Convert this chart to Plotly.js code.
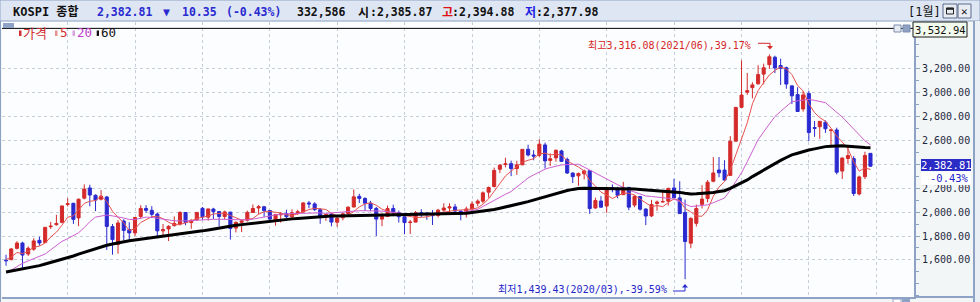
<!DOCTYPE html>
<html><head><meta charset="utf-8">
<script src="https://cdn.plot.ly/plotly-3.0.1.min.js"></script>
<style>html,body{margin:0;padding:0;background:#fff;overflow:hidden}#chart{width:980px;height:302px}</style>
</head><body><div id="chart"></div>
<script>
// ---------------- DATA ----------------
const months = [
 '2010-02','2010-03','2010-04','2010-05','2010-06','2010-07','2010-08','2010-09','2010-10','2010-11','2010-12',
 '2011-01','2011-02','2011-03','2011-04','2011-05','2011-06','2011-07','2011-08','2011-09','2011-10','2011-11','2011-12',
 '2012-01','2012-02','2012-03','2012-04','2012-05','2012-06','2012-07','2012-08','2012-09','2012-10','2012-11','2012-12',
 '2013-01','2013-02','2013-03','2013-04','2013-05','2013-06','2013-07','2013-08','2013-09','2013-10','2013-11','2013-12',
 '2014-01','2014-02','2014-03','2014-04','2014-05','2014-06','2014-07','2014-08','2014-09','2014-10','2014-11','2014-12',
 '2015-01','2015-02','2015-03','2015-04','2015-05','2015-06','2015-07','2015-08','2015-09','2015-10','2015-11','2015-12',
 '2016-01','2016-02','2016-03','2016-04','2016-05','2016-06','2016-07','2016-08','2016-09','2016-10','2016-11','2016-12',
 '2017-01','2017-02','2017-03','2017-04','2017-05','2017-06','2017-07','2017-08','2017-09','2017-10','2017-11','2017-12',
 '2018-01','2018-02','2018-03','2018-04','2018-05','2018-06','2018-07','2018-08','2018-09','2018-10','2018-11','2018-12',
 '2019-01','2019-02','2019-03','2019-04','2019-05','2019-06','2019-07','2019-08','2019-09','2019-10','2019-11','2019-12',
 '2020-01','2020-02','2020-03','2020-04','2020-05','2020-06','2020-07','2020-08','2020-09','2020-10','2020-11','2020-12',
 '2021-01','2021-02','2021-03','2021-04','2021-05','2021-06','2021-07','2021-08','2021-09','2021-10','2021-11','2021-12',
 '2022-01','2022-02','2022-03','2022-04','2022-05','2022-06','2022-07','2022-08','2022-09','2022-10','2022-11','2022-12'
];
const openP = [
 1598,1603,1697,1741,1650,1690,1764,1745,1878,1895,1914,
 2063,2073,1951,2116,2201,2140,2107,2126,1879,1730,1925,1853,
 1826,1963,2030,2014,1983,1843,1859,1886,1900,1996,1912,1936,
 2031,1957,2025,2004,1963,1999,1866,1914,1931,1996,2034,2044,
 2013,1935,1977,1988,1960,1991,2001,2076,2068,2020,1964,1983,
 1915,1952,1988,2042,2131,2113,2074,2030,1941,1963,2030,1996,
 1961,1913,1916,1995,1993,1982,1971,2016,2034,2043,2008,1987,
 2026,2074,2091,2166,2213,2357,2397,2404,2363,2394,2524,2476,
 2474,2560,2431,2452,2510,2439,2325,2302,2319,2345,2034,2092,
 2050,2203,2196,2145,2206,2058,2129,2025,1968,2072,2084,2091,
 2201,2118,1997,1740,1906,2064,2113,2257,2351,2350,2306,2591,
 2874,3000,3038,3070,3151,3230,3292,3223,3205,3053,2980,2860,
 2989,2705,2712,2750,2680,2685,2342,2447,2446,2151,2295,2490
];
const highP = [
 1644,1700,1757,1752,1713,1781,1794,1876,1918,1977,2052,
 2116,2077,2113,2231,2228,2147,2184,2134,1900,1933,1940,1915,
 1958,2057,2057,2049,1996,1900,1890,1964,2007,2001,1939,1999,
 2042,2028,2035,2007,2012,2003,1922,1935,2012,2063,2059,2051,
 2013,1983,2000,2019,2023,2019,2082,2093,2082,2034,1983,1992,
 1964,1999,2046,2189,2152,2124,2093,2044,1988,2054,2062,2012,
 1961,1934,2009,2024,2000,2016,2027,2073,2073,2068,2012,2045,
 2090,2106,2172,2213,2371,2402,2453,2429,2428,2524,2562,2516,
 2607,2579,2490,2523,2520,2455,2332,2330,2355,2346,2120,2133,
 2205,2231,2210,2252,2209,2139,2135,2032,2102,2096,2173,2204,
 2277,2257,2105,1957,2062,2224,2267,2458,2459,2432,2634,2878,
 3266,3161,3083,3225,3238,3316.08,3305,3280,3213,3054,3042,3010,
 3010,2760,2760,2765,2690,2704,2455,2546,2467,2304,2503,2490
];
const lowP = [
 1552,1597,1688,1532,1633,1676,1720,1745,1859,1886,1906,
 2046,1901,1882,2106,2048,2008,2097,1684,1644,1652,1764,1750,
 1800,1942,1993,1949,1782,1801,1758,1880,1888,1890,1860,1925,
 1935,1928,1942,1880,1939,1770,1830,1833,1920,1996,1980,1960,
 1914,1886,1912,1950,1940,1976,1995,2032,2010,1902,1927,1881,
 1876,1931,1973,2040,2076,2012,2008,1800,1882,1963,1966,1913,
 1817,1817,1914,1958,1935,1892,1955,2003,1993,1986,1931,1954,
 2016,2048,2073,2120,2206,2325,2373,2300,2310,2394,2464,2432,
 2457,2363,2385,2420,2419,2317,2242,2218,2272,1985,2027,2034,
 1993,2165,2115,2145,2016,2040,2012,1891,1958,2011,2083,2054,
 2119,1987,1439.43,1698,1879,2030,2081,2248,2290,2262,2306,2591,
 2869,2978,2949,3063,3066,3194,3160,3060,3029,2901,2837,2838,
 2591,2628,2610,2660,2546,2314,2276,2402,2134,2138,2275,2377.98
];
const closeP = [
 1594,1692,1741,1641,1698,1759,1742,1872,1882,1904,2051,
 2069,1939,2107,2192,2142,2100,2133,1880,1770,1909,1847,1826,
 1955,2030,2014,1981,1843,1854,1881,1905,1996,1912,1932,1997,
 1961,2026,2004,1963,2001,1863,1914,1926,1997,2030,2044,2011,
 1941,1980,1985,1961,1994,2002,2076,2068,2020,1964,1981,1916,
 1949,1985,2041,2127,2114,2074,2030,1941,1963,2029,1991,1961,
 1912,1916,1995,1994,1983,1970,2016,2034,2043,2008,1983,2026,
 2067,2091,2160,2205,2347,2391,2402,2363,2394,2523,2476,2467,
 2566,2427,2445,2515,2423,2326,2295,2322,2343,2029,2096,2041,
 2204,2195,2140,2203,2041,2131,2024,1967,2063,2083,2087,2197,
 2119,1987,1754,1947,2030,2108,2249,2326,2327,2267,2591,2873,
 2976,3013,3061,3147,3204,3296,3202,3199,3068,2970,2839,2977,
 2663,2699,2757,2695,2685,2332,2451,2472,2155,2293,2472,2382.81
];
const ma5 = [
 1603,1625,1662,1654,1673,1706,1716,1742,1791,1832,1890,
 1956,1969,2014,2072,2090,2096,2135,2089,2005,1958,1908,1846,
 1861,1913,1934,1961,1965,1944,1915,1893,1896,1910,1925,1948,
 1960,1966,1984,1990,1991,1971,1949,1933,1940,1946,1982,2002,
 2005,2001,1992,1976,1972,1984,2004,2020,2032,2026,2022,1990,
 1966,1959,1974,2004,2043,2068,2077,2057,2024,2007,1991,1977,
 1971,1962,1955,1956,1960,1972,1992,1999,2009,2014,2017,2019,
 2025,2035,2065,2110,2174,2239,2301,2342,2379,2415,2432,2445,
 2485,2492,2476,2484,2475,2427,2401,2376,2342,2263,2217,2166,
 2143,2113,2135,2157,2157,2142,2108,2073,2045,2054,2045,2079,
 2110,2095,2029,2001,1967,1965,2018,2132,2208,2255,2352,2477,
 2607,2744,2903,3014,3080,3144,3182,3210,3194,3147,3056,3011,
 2903,2830,2787,2758,2700,2634,2584,2527,2419,2341,2369,2355
];
const ma20 = [
 1490,1518,1546,1572,1592,1612,1630,1650,1685,1720,1755,
 1778,1803,1827,1870,1920,1958,1968,1975,1968,1961,1950,1938,
 1938,1948,1958,1955,1948,1940,1932,1927,1926,1925,1928,1932,
 1936,1938,1939,1940,1940,1940,1938,1936,1934,1941,1950,1959,
 1966,1975,1983,1986,1988,1990,1992,1993,1995,1993,1989,1993,
 1998,2002,2005,2008,2011,2011,2011,2011,2008,2003,1997,1992,
 1987,1982,1982,1983,1984,1986,1988,1990,1992,1994,1996,2004,
 2013,2022,2046,2073,2100,2124,2148,2171,2209,2246,2284,2310,
 2335,2358,2371,2384,2393,2396,2399,2399,2375,2350,2325,2300,
 2275,2251,2228,2206,2183,2167,2150,2134,2130,2127,2120,2114,
 2108,2088,2066,2046,2050,2055,2060,2078,2097,2117,2183,2256,
 2328,2420,2512,2604,2669,2734,2797,2840,2884,2921,2928,2935,
 2941,2932,2923,2913,2873,2833,2793,2743,2692,2640,2595,2560
];
const ma60 = [
 1500,1508,1516,1524,1532,1541,1553,1566,1578,1590,1603,
 1617,1633,1649,1665,1681,1697,1713,1723,1734,1744,1752,1760,
 1766,1772,1779,1785,1791,1798,1804,1810,1816,1823,1829,1835,
 1843,1851,1859,1867,1875,1883,1889,1895,1901,1907,1913,1919,
 1923,1928,1933,1938,1943,1947,1951,1954,1957,1960,1964,1966,
 1967,1968,1968,1969,1970,1971,1972,1973,1974,1975,1976,1977,
 1978,1979,1979,1980,1981,1981,1982,1982,1983,1983,1984,1990,
 1996,2002,2009,2016,2022,2032,2041,2051,2063,2075,2087,2101,
 2114,2128,2142,2157,2170,2180,2189,2197,2198,2198,2198,2198,
 2198,2198,2197,2196,2195,2192,2189,2186,2183,2179,2176,2173,
 2170,2164,2157,2151,2153,2155,2157,2164,2171,2178,2198,2219,
 2240,2268,2296,2324,2352,2379,2407,2431,2455,2477,2491,2505,
 2518,2527,2537,2546,2549,2552,2554,2550,2545,2540,2538,2537
];
const yTickVals = [1600,1800,2000,2200,2400,2600,2800,3000,3200];
const yTickText = ['1,600.00','1,800.00','2,000.00','2,200.00','','2,600.00','2,800.00','3,000.00','3,200.00'];
const chartTop = 3532.94;
const prevClose = 2393.16;
const dayOpen = 2385.87, dayHigh = 2394.88, dayLow = 2377.98;
const dayVolume = '332,586';

// ---------------- STYLE ----------------
const RED = '#d42a2a', BLUE = '#2a2ad0';
const MONO = 'DejaVu Sans Mono, Noto Sans CJK KR, monospace';
const KR = 'Noto Sans CJK KR, DejaVu Sans Mono, sans-serif';
const FRAME = '#8ea2c5';

const L = 2, R = 914, T = 22, B = 297;
const px = x => (x - L) / (R - L);
const py = y => (B - y) / (B - T);
function rect(x0, y0, x1, y1, fill, line, lw) {
  return {type:'rect', xref:'paper', yref:'paper', x0:px(x0), x1:px(x1), y0:py(y1), y1:py(y0),
    fillcolor:fill, line:{color:line || fill, width: lw || 0}, layer:'above'};
}
function seg(x0, y0, x1, y1, color, w) {
  return {type:'line', xref:'paper', yref:'paper', x0:px(x0), x1:px(x1), y0:py(y0), y1:py(y1),
    line:{color:color, width:w || 1}, layer:'above'};
}
function tri(pts, color) {
  const d = 'M' + pts.map(p => px(p[0]) + ',' + py(p[1])).join(' L') + ' Z';
  return {type:'path', xref:'paper', yref:'paper', path:d, fillcolor:color, line:{color:color, width:0}, layer:'above'};
}
function txt(x, y, text, color, size, family, anchor, bold) {
  return {xref:'paper', yref:'paper', x:px(x), y:py(y), text: bold ? '<b>' + text + '</b>' : text,
    showarrow:false, xanchor:anchor || 'left', yanchor:'middle', borderpad:0,
    font:{family:family, size:size, color:color}};
}
const fmt = v => v.toLocaleString('en-US', {minimumFractionDigits:2, maximumFractionDigits:2});

// derived labels
const last = closeP[closeP.length - 1];
const hiIdx = highP.indexOf(Math.max(...highP));
const loIdx = lowP.indexOf(Math.min(...lowP));
const hiPct = ((highP[hiIdx] / last - 1) * 100).toFixed(2);
const loPct = ((lowP[loIdx] / last - 1) * 100).toFixed(2);
const chg = last - prevClose;
const chgPct = (chg / prevClose * 100).toFixed(2);
const hiText = '최고' + fmt(highP[hiIdx]) + '(' + months[hiIdx].replace('-', '/') + '),' + hiPct + '%';
const loText = '최저' + fmt(lowP[loIdx]) + '(' + months[loIdx].replace('-', '/') + '),' + loPct + '%';

// ---------------- TRACES ----------------
const traces = [
  {type:'candlestick', x:months, open:openP, high:highP, low:lowP, close:closeP,
   increasing:{line:{color:RED, width:1}, fillcolor:RED},
   decreasing:{line:{color:BLUE, width:1}, fillcolor:BLUE},
   whiskerwidth:0, hoverinfo:'skip', showlegend:false},
  {type:'scatter', mode:'lines', x:months, y:ma5, line:{color:'#e8524e', width:1}, hoverinfo:'skip', showlegend:false},
  {type:'scatter', mode:'lines', x:months, y:ma20, line:{color:'#cc5fd0', width:1}, hoverinfo:'skip', showlegend:false},
  {type:'scatter', mode:'lines', x:months, y:ma60, line:{color:'#000000', width:3}, hoverinfo:'skip', showlegend:false}
];

// ---------------- SHAPES ----------------
const shapes = [
  rect(0, 0, 980, 21, '#dee6f3', FRAME, 1),
  seg(0.5, 21, 0.5, 302, FRAME, 1),
  rect(975, 21, 980, 302, '#eaeff6'),
  seg(974, 21, 974, 302, FRAME, 2),
  seg(914, 297, 974, 297, FRAME, 2),
  {type:'line', xref:'paper', yref:'y', x0:0, x1:px(913), y0:chartTop, y1:chartTop, line:{color:'#000', width:1}, layer:'above'},
  rect(913, 22, 967, 37, '#f3fbee', '#1a1a1a', 1),
  rect(894, 25, 901, 32, '#e6ebf2', '#7d8db0', 1),
  rect(903, 25, 910, 32, '#8ea2c5', '#7d8db0', 1),
  rect(3, 23, 14, 28, FRAME),
  rect(19, 30.5, 21.5, 36, '#d23030'),
  rect(55, 30.5, 57.5, 36, '#e79090'),
  rect(72.5, 30.5, 75, 36, '#d9a3e0'),
  rect(96.7, 30.5, 99, 36, '#111111'),
  rect(921, 159, 971, 171, '#2b2bc6'),
  rect(921, 171.5, 971, 185, '#ffffff'),
  rect(943, 4, 957, 18, '#e9edf3', '#5b6b8c', 1),
  rect(958, 4, 971, 18, '#e9edf3', '#5b6b8c', 1),
  rect(946.5, 8, 953.5, 14, '#e9edf3', '#222', 1),
  seg(946.5, 8.8, 953.5, 8.8, '#222', 2),
  seg(758, 43.3, 770, 43.3, RED, 1),
  seg(770, 43.3, 770, 47, RED, 1),
  tri([[767, 46], [773, 46], [770, 49.5]], RED),
  seg(673, 291, 685, 291, BLUE, 1),
  seg(685, 291, 685, 286.5, BLUE, 1),
  tri([[682, 287.5], [688, 287.5], [685, 284]], BLUE),
  rect(893, 299, 901, 303, '#ffffff', FRAME, 1),
  rect(902, 299, 910, 303, FRAME)
];

// ---------------- ANNOTATIONS ----------------
const HY = 11.5;
const annotations = [
  txt(12, HY, 'KOSPI 종합', '#111', 12, MONO, 'left', true),
  txt(96, HY, fmt(last), BLUE, 11.5, MONO, 'left', true),
  txt(162, HY, '▼', BLUE, 11.5, MONO, 'left', true),
  txt(181, HY, Math.abs(chg).toFixed(2), BLUE, 11.5, MONO, 'left', true),
  txt(225, HY, '(' + chgPct + '%)', BLUE, 11.5, MONO, 'left', true),
  txt(296, HY, dayVolume, '#111', 11.5, MONO, 'left', true),
  txt(357, HY, '시', '#111', 12, KR, 'left', true),
  txt(369, HY, ':' + fmt(dayOpen), '#111', 11.5, MONO, 'left', true),
  txt(441, HY, '고', '#e01010', 12, KR, 'left', true),
  txt(451, HY, ':' + fmt(dayHigh), '#111', 11.5, MONO, 'left', true),
  txt(524, HY, '저', '#2020e0', 12, KR, 'left', true),
  txt(535, HY, ':' + fmt(dayLow), '#111', 11.5, MONO, 'left', true),
  txt(907, HY, '[1월]', '#111', 12, MONO, 'left', false),
  txt(964.5, HY, '✕', '#222', 11, MONO, 'center', true),
  txt(22, 32.5, '가격', '#d23030', 13, KR),
  txt(58.5, 32.5, '5', '#d23030', 12.5, MONO),
  txt(76, 32.5, '20', '#c040c8', 12.5, MONO),
  txt(100, 32.5, '60', '#111', 12.5, MONO),
  txt(940.5, 29.8, fmt(chartTop), '#111', 10.5, MONO, 'center'),
  txt(946, 165, fmt(last), '#ffffff', 10.5, MONO, 'center'),
  txt(970, 177.8, chgPct + '%', '#2323c8', 10.5, MONO, 'right'),
  txt(587, 45.5, hiText, '#d42626', 10, MONO),
  txt(497, 289, loText, '#2626c8', 10, MONO)
];

const layout = {
  width:980, height:302,
  margin:{l:L, r:980 - R, t:T, b:302 - B, pad:0},
  paper_bgcolor:'#f3f6f7', plot_bgcolor:'#fcfdff',
  showlegend:false, hovermode:false, dragmode:false,
  boxgap:0.15,
  xaxis:{type:'date', range:['2010-01-10', '2023-07-25'], rangeslider:{visible:false},
    showgrid:true, griddash:'dot', gridcolor:'#c5ced8', gridwidth:1,
    tick0:'2011-01-01', dtick:'M12', showticklabels:false, ticks:'',
    zeroline:false, showline:true, linecolor:FRAME, linewidth:2, mirror:false, fixedrange:true},
  yaxis:{side:'right', range:[1291, 3586], tickmode:'array', tickvals:yTickVals, ticktext:yTickText,
    showgrid:true, griddash:'dot', gridcolor:'#c5ced8', gridwidth:1,
    ticks:'outside', ticklen:4, tickcolor:FRAME, tickwidth:1, ticklabelstandoff:0,
    minor:{tickmode:'linear', tick0:0, dtick:100, ticks:'outside', ticklen:3, tickcolor:FRAME, showgrid:false},
    showline:true, linecolor:FRAME, linewidth:2, zeroline:false, fixedrange:true,
    tickfont:{family:MONO, size:10, color:'#1e2840'}},
  shapes:shapes, annotations:annotations
};

Plotly.newPlot('chart', traces, layout, {displayModeBar:false, staticPlot:true});
</script>
</body></html>
